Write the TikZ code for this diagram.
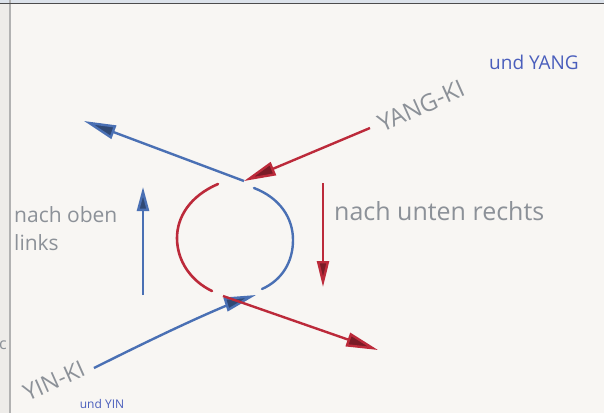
\documentclass[tikz,border=0pt]{standalone}
\usepackage{fontspec}
\setmainfont{Open Sans}
\usetikzlibrary{arrows.meta,calc,positioning}
\definecolor{Paper}{HTML}{F8F6F3}
\definecolor{Margin}{HTML}{EEECE9}
\definecolor{RuleGrey}{HTML}{B2B2B2}
\definecolor{TopStrip}{HTML}{DCE2EA}
\definecolor{InkBlue}{HTML}{4A70B4}
\definecolor{InkRed}{HTML}{BC2A3A}
\definecolor{Pencil}{HTML}{8C9198}
\definecolor{LabelBlue}{HTML}{4A5EBC}

\begin{document}
\begin{tikzpicture}[x=1pt,y=-1pt,every node/.style={text=Pencil,font=\fontsize{21}{28}\selectfont,inner sep=1pt},bluearrow/.style={-{Triangle[length=32pt,width=14pt,fill=InkBlue!65!black]},line width=2.4pt,draw=InkBlue},redarrow/.style={-{Triangle[length=32pt,width=14pt,fill=InkRed!65!black]},line width=2.4pt,draw=InkRed},bluenote/.style={text=LabelBlue,font=\fontsize{19}{21}\selectfont}]
\useasboundingbox (0,0) rectangle (604,413);
\fill[Paper] (0,0) rectangle (604,413);
\fill[Margin] (0,0) rectangle (10,413);
\fill[TopStrip] (0,0) rectangle (604,3);
\draw[RuleGrey,line width=1.2pt] (10,0)--(10,413);
\draw[black!70,line width=0.8pt] (0,3.5)--(604,3.5);
\node[font=\fontsize{16}{18}\selectfont] (frag) at (3,345) {c};

% labels
\node[align=left,anchor=west] (upleft) at (13,229) {nach oben\\links};
\node[anchor=west,font=\fontsize{25}{28}\selectfont] (downright) at (333,211) {nach unten rechts};
\node[rotate=24,font=\fontsize{24}{28}\selectfont] (yang) at (421,106) {YANG-KI};
\node[bluenote] (undyang) at (534,62) {und YANG};
\node[rotate=24,font=\fontsize{23}{28}\selectfont] (yin) at (54,381) {YIN-KI};
\node[bluenote,font=\fontsize{12}{14}\selectfont] (undyin) at (102,404) {und YIN};

% crossing points
\coordinate (top) at (244,181);
\coordinate (bot) at (240,300);
\coordinate (ul) at (84,121);
\coordinate (lr) at (378,350);
\coordinate (yangend) at (370,128);
\coordinate (yinend) at (94,368);

\draw[bluearrow] (top) -- (ul);
\draw[redarrow] (yangend) -- (top);
\draw[bluearrow] (yinend) .. controls (150,340) and (200,316) .. (bot) -- (256,295);
\draw[redarrow] (223,296) -- (lr);

% the circle, two halves
\draw[InkRed,line width=2.6pt,line cap=round] (218,184) .. controls (190,196) and (177,217) .. (177,238) .. controls (177,261) and (191,281) .. (212,291);
\draw[InkBlue,line width=2.4pt,line cap=round] (254,188) .. controls (280,198) and (293,218) .. (293,240) .. controls (293,262) and (282,280) .. (262,289);

% up and down arrows
\draw[bluearrow,-{Triangle[length=24pt,width=12pt,fill=InkBlue!65!black]}] (143,295) -- (143,187);
\draw[redarrow,-{Triangle[length=26pt,width=12pt,fill=InkRed!65!black]}] (323,183) -- (323,287);
\end{tikzpicture}
\end{document}
